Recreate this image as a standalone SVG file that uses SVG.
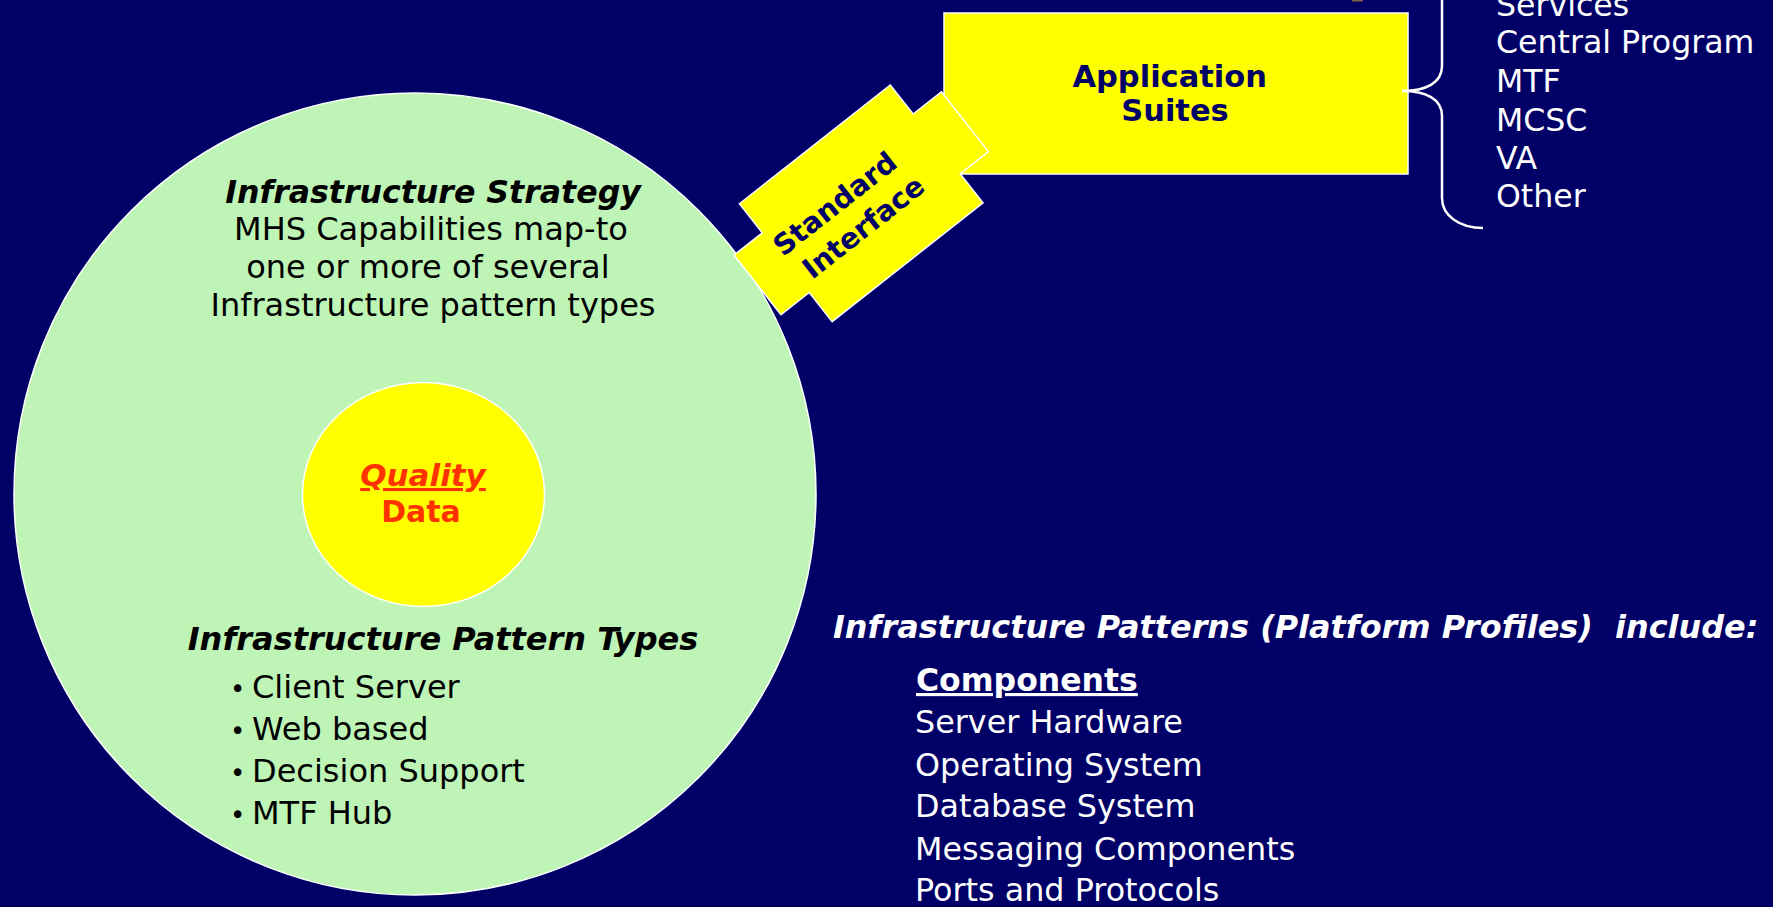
<svg xmlns="http://www.w3.org/2000/svg" width="1773" height="907" viewBox="0 0 1773 907">
<style>
.bg{fill:#000066}
.txt{font-family:"DejaVu Sans","Verdana",sans-serif}
.blk{fill:#000000}
.wht{fill:#FFFFFF}
.nav{fill:#000066}
.bi{font-weight:bold;font-style:italic}
.b{font-weight:bold}
.yel{fill:#FFFF00;stroke:#FFFFFF;stroke-width:1.5}
</style>
<rect class="bg" x="0" y="0" width="1773" height="907"/>
<rect x="1352" y="0" width="11" height="1.5" fill="#806040"/>

<g id="infrastructure-circle">
  <circle cx="415" cy="494" r="401" fill="#BEF4B6" stroke="#FFFFFF" stroke-width="1.5"/>
  <text class="txt blk bi" x="433" y="203" font-size="31.6" text-anchor="middle">Infrastructure Strategy</text>
  <text class="txt blk" font-size="32" text-anchor="middle">
    <tspan x="436" y="240">MHS Capabilities map-to</tspan>
    <tspan x="433" y="278">one or more of several</tspan>
    <tspan x="433" y="316">Infrastructure pattern types</tspan>
  </text>
  <text class="txt blk bi" x="443" y="650" font-size="32" text-anchor="middle">Infrastructure Pattern Types</text>
  <text class="txt blk" font-size="32">
    <tspan x="230" y="698" font-size="26">•</tspan><tspan x="252" y="698">Client Server</tspan>
    <tspan x="230" y="740" font-size="26">•</tspan><tspan x="252" y="740">Web based</tspan>
    <tspan x="230" y="782" font-size="26">•</tspan><tspan x="252" y="782">Decision Support</tspan>
    <tspan x="230" y="824" font-size="26">•</tspan><tspan x="252" y="824">MTF Hub</tspan>
  </text>
</g>

<g id="quality-data">
  <ellipse cx="423.5" cy="494.5" rx="121" ry="112" fill="#FFFF00" stroke="#FFFFFF" stroke-width="1.5"/>
  <text class="txt bi" x="423" y="486" font-size="31" fill="#FF3300" text-anchor="middle" text-decoration="underline">Quality</text>
  <text class="txt b" x="421" y="522" font-size="30" fill="#FF3300" text-anchor="middle">Data</text>
</g>

<g id="application-suites">
  <rect class="yel" x="944" y="13" width="464" height="161"/>
  <text class="txt nav b" font-size="30.5" text-anchor="middle">
    <tspan x="1175" y="87">Application</tspan>
    <tspan x="1175" y="121">Suites</tspan>
  </text>
</g>

<g id="standard-interface" transform="translate(861.2,203.3) rotate(-38.2)">
  <polygon class="yel" points="-96,-75 96,-75 96,-38 132,-38 132,38 96,38 96,75 -96,75 -96,38 -132,38 -132,-38 -96,-38"/>
  <text class="txt nav b" font-size="28.5" text-anchor="middle">
    <tspan x="-16" y="-6">Standard</tspan>
    <tspan x="-13" y="30">Interface</tspan>
  </text>
</g>

<g id="connectors">
  <path d="M1482,-45 C1460,-45 1442,-30 1442,-10 L1442,66 C1442,83 1426,91 1402,91 C1426,91 1442,99 1442,116 L1442,198 C1442,216 1460,228 1483,228" fill="none" stroke="#FFFFFF" stroke-width="2.5"/>
</g>

<g id="suite-list">
  <text class="txt wht" font-size="31.6">
    <tspan x="1496" y="16">Services</tspan>
    <tspan x="1496" y="53">Central Program</tspan>
    <tspan x="1496" y="92">MTF</tspan>
    <tspan x="1496" y="131">MCSC</tspan>
    <tspan x="1496" y="169">VA</tspan>
    <tspan x="1496" y="207">Other</tspan>
  </text>
</g>

<g id="platform-profiles">
  <text class="txt wht bi" x="833" y="638" font-size="31.9" xml:space="preserve">Infrastructure Patterns (Platform Profiles)  include:</text>
  <text class="txt wht b" x="916" y="691" font-size="31.5" text-decoration="underline">Components</text>
  <text class="txt wht" font-size="31.8">
    <tspan x="915" y="733">Server Hardware</tspan>
    <tspan x="915" y="776">Operating System</tspan>
    <tspan x="915" y="817">Database System</tspan>
    <tspan x="915" y="860">Messaging Components</tspan>
    <tspan x="915" y="901">Ports and Protocols</tspan>
  </text>
</g>
</svg>
